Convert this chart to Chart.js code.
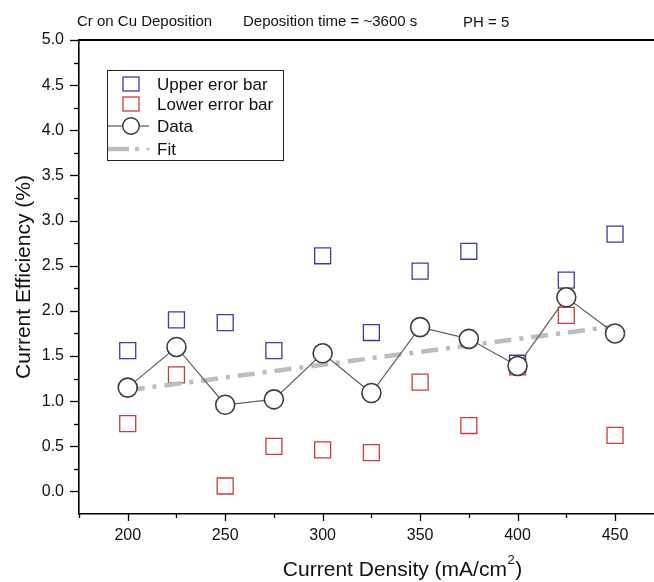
<!DOCTYPE html>
<html>
<head>
<meta charset="utf-8">
<script src="https://cdn.jsdelivr.net/npm/chart.js@4.4.1/dist/chart.umd.min.js"></script>
<style>
  html, body { margin: 0; padding: 0; background: #fff; overflow: hidden; }
  #wrap { width: 654px; height: 582px; overflow: hidden; }
  #chart { display: block; }
</style>
</head>
<body>
<div id="wrap"><canvas id="chart" width="667" height="582"></canvas></div>
<script>
const currentDensity = [200, 225, 250, 275, 300, 325, 350, 375, 400, 425, 450];
const efficiency = [1.15, 1.60, 0.96, 1.02, 1.53, 1.09, 1.82, 1.69, 1.39, 2.15, 1.75];
const upperError = [1.56, 1.90, 1.87, 1.56, 2.61, 1.76, 2.44, 2.66, 1.42, 2.34, 2.85];
const lowerError = [0.75, 1.29, 0.06, 0.50, 0.46, 0.43, 1.21, 0.73, 1.38, 1.95, 0.62];
const fitX = [200, 450];
const fitY = [1.12, 1.83];
const xTickValues = [175, 200, 225, 250, 275, 300, 325, 350, 375, 400, 425, 450];
const headers = ['Cr on Cu Deposition', 'Deposition time = ~3600 s', 'PH = 5'];

const FONT = '"Liberation Sans", Arial, sans-serif';
const BLUE = '#3b3ba8';
const RED = '#c93c3c';
const DATA_GREY = '#606060';
const FIT_GREY = '#bdbdbd';

const toPoints = (xs, ys) => xs.map((x, i) => ({ x, y: ys[i] }));

const decorations = {
  id: 'decorations',
  afterDraw(chart) {
    const { ctx, chartArea } = chart;
    const xs = chart.scales.x;
    const ys = chart.scales.y;
    ctx.save();
    ctx.strokeStyle = '#000';
    ctx.fillStyle = '#111';

    // top frame line
    ctx.lineWidth = 1.8;
    ctx.beginPath();
    ctx.moveTo(chartArea.left - 1, chartArea.top);
    ctx.lineTo(chart.width, chartArea.top);
    ctx.stroke();

    // y ticks
    ctx.lineWidth = 1.3;
    ys.ticks.forEach((t) => {
      if (t.value <= ys.min) return;
      const major = Math.abs(t.value * 2 - Math.round(t.value * 2)) < 1e-6;
      const py = Math.round(ys.getPixelForValue(t.value)) + 0.5;
      ctx.beginPath();
      ctx.moveTo(chartArea.left, py);
      ctx.lineTo(chartArea.left - (major ? 9 : 5), py);
      ctx.stroke();
    });

    // x ticks
    xs.ticks.forEach((t) => {
      if (t.value > xs.max) return;
      const major = t.value % 50 === 0;
      const px = Math.round(xs.getPixelForValue(t.value)) + 0.5;
      ctx.beginPath();
      ctx.moveTo(px, chartArea.bottom);
      ctx.lineTo(px, chartArea.bottom + (major ? 7 : 4));
      ctx.stroke();
    });

    // headers
    ctx.font = `15px ${FONT}`;
    ctx.textBaseline = 'alphabetic';
    ctx.textAlign = 'left';
    ctx.fillText(headers[0], 77, 26);
    ctx.fillText(headers[1], 243, 26);
    ctx.fillText(headers[2], 463, 27);

    // y title
    ctx.font = `21px ${FONT}`;
    ctx.save();
    ctx.translate(30, 277);
    ctx.rotate(-Math.PI / 2);
    ctx.textAlign = 'center';
    ctx.fillText('Current Efficiency (%)', 0, 0);
    ctx.restore();

    // x title with superscript
    const main = 'Current Density (mA/cm';
    const sup = '2';
    const tail = ')';
    ctx.font = `21px ${FONT}`;
    const wMain = ctx.measureText(main).width;
    const wTail = ctx.measureText(tail).width;
    ctx.font = `13px ${FONT}`;
    const wSup = ctx.measureText(sup).width;
    const x0 = 402 - (wMain + wSup + wTail) / 2;
    ctx.font = `21px ${FONT}`;
    ctx.fillText(main, x0, 576);
    ctx.font = `13px ${FONT}`;
    ctx.fillText(sup, x0 + wMain + 0.5, 564);
    ctx.font = `21px ${FONT}`;
    ctx.fillText(tail, x0 + wMain + wSup + 1, 576);

    // legend
    ctx.lineWidth = 1;
    ctx.strokeStyle = '#222';
    ctx.strokeRect(107.5, 70.5, 176, 90);
    ctx.font = `17px ${FONT}`;
    ctx.textBaseline = 'middle';
    const rows = [84, 104, 126, 149];
    const sx = 131;
    chart.data.datasets.forEach((ds, i) => {
      const ry = rows[i];
      if (ds.pointStyle === 'rect') {
        ctx.strokeStyle = ds.borderColor;
        ctx.lineWidth = 1.3;
        ctx.strokeRect(sx - 8, ry - 7, 16, 14);
      } else if (ds.legendKind === 'data') {
        ctx.strokeStyle = '#333';
        ctx.lineWidth = 1;
        ctx.beginPath();
        ctx.moveTo(108, ry); ctx.lineTo(122.5, ry);
        ctx.moveTo(139.5, ry); ctx.lineTo(149, ry);
        ctx.stroke();
        ctx.lineWidth = 1.4;
        ctx.beginPath();
        ctx.arc(sx, ry, 8.3, 0, Math.PI * 2);
        ctx.stroke();
      } else {
        ctx.strokeStyle = FIT_GREY;
        ctx.lineWidth = 4.5;
        ctx.beginPath();
        ctx.moveTo(108, ry); ctx.lineTo(129, ry);
        ctx.stroke();
        ctx.fillStyle = FIT_GREY;
        ctx.beginPath(); ctx.arc(137, ry, 2.3, 0, Math.PI * 2); ctx.fill();
        ctx.beginPath(); ctx.arc(148, ry, 1.6, 0, Math.PI * 2); ctx.fill();
      }
      ctx.fillStyle = '#111';
      ctx.fillText(ds.label, 157, ry + 1);
    });
    ctx.restore();
  },
};

new Chart(document.getElementById('chart'), {
  type: 'scatter',
  data: {
    datasets: [
      {
        label: 'Upper eror bar',
        data: toPoints(currentDensity, upperError),
        pointStyle: 'rect',
        pointRadius: 11.3,
        borderColor: BLUE,
        backgroundColor: 'rgba(0,0,0,0)',
        borderWidth: 1.3,
        showLine: false,
        order: 3,
      },
      {
        label: 'Lower error bar',
        data: toPoints(currentDensity, lowerError),
        pointStyle: 'rect',
        pointRadius: 11.3,
        borderColor: RED,
        backgroundColor: 'rgba(0,0,0,0)',
        borderWidth: 1.3,
        showLine: false,
        order: 3,
      },
      {
        label: 'Data',
        legendKind: 'data',
        data: toPoints(currentDensity, efficiency),
        showLine: true,
        borderColor: DATA_GREY,
        borderWidth: 1.2,
        pointRadius: 9.5,
        pointBorderColor: '#3c3c3c',
        pointBorderWidth: 1.6,
        pointBackgroundColor: '#fff',
        order: 1,
      },
      {
        label: 'Fit',
        legendKind: 'fit',
        data: toPoints(fitX, fitY),
        showLine: true,
        borderColor: FIT_GREY,
        borderWidth: 4.5,
        borderDash: [17, 8, 4, 8],
        pointRadius: 0,
        order: 2,
      },
    ],
  },
  options: {
    responsive: false,
    animation: false,
    layout: { padding: { top: 40, right: 0, left: 0, bottom: 0 } },
    plugins: {
      legend: { display: false },
      tooltip: { enabled: false },
    },
    scales: {
      x: {
        type: 'linear',
        min: 175,
        max: 470.2,
        afterBuildTicks: (scale) => {
          scale.ticks = xTickValues.map((value) => ({ value }));
        },
        afterFit: (scale) => {
          scale.height = 68;
        },
        grid: { display: false, drawTicks: false },
        border: { display: true, color: '#000', width: 1.6 },
        ticks: {
          autoSkip: false,
          maxRotation: 0,
          padding: 12,
          color: '#111',
          font: { family: FONT, size: 16 },
          callback: (v) => (v % 50 === 0 && v >= 200 && v <= 450 ? String(v) : ''),
        },
      },
      y: {
        type: 'linear',
        min: -0.25,
        max: 5,
        afterFit: (scale) => {
          scale.width = 79;
        },
        grid: { display: false, drawTicks: false },
        border: { display: true, color: '#000', width: 1.6 },
        ticks: {
          stepSize: 0.25,
          padding: 15,
          color: '#111',
          font: { family: FONT, size: 16 },
          callback: (v) => {
            const half = Math.abs(v * 2 - Math.round(v * 2)) < 1e-6;
            return half && v >= 0 ? v.toFixed(1) : '';
          },
        },
      },
    },
  },
  plugins: [decorations],
});
</script>
</body>
</html>
